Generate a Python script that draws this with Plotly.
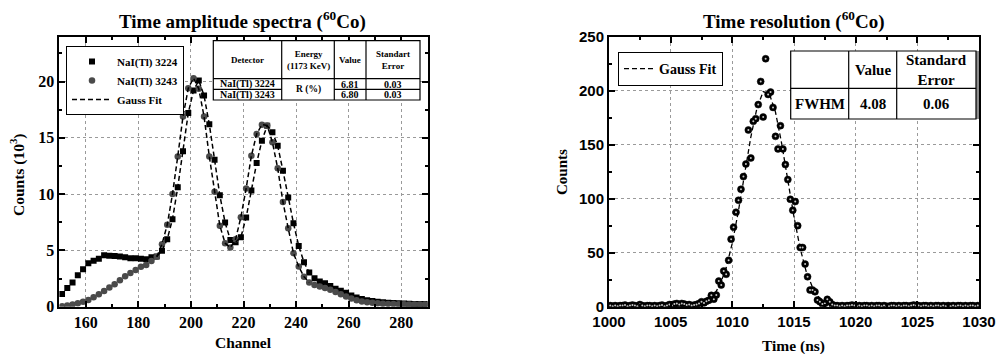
import numpy as np
import plotly.graph_objects as go

# ---------------- Data: left panel (Time amplitude spectra) ----------------
channels = list(range(151, 290, 2))  # 70 channels
nai_3224 = [1.13, 1.66, 2.14, 2.79, 3.32, 3.86, 4.09, 4.27, 4.57, 4.52,
            4.50, 4.45, 4.39, 4.30, 4.30, 4.27, 4.21, 4.39, 4.45, 4.98,
            5.99, 7.77, 10.6, 13.8, 17.2, 19.2, 20.1, 18.75, 16.2, 13.06,
            9.9, 7.48, 5.93, 5.73, 6.17, 7.92, 10.33, 12.76, 14.75, 16.08,
            15.5, 14.3, 12.08, 9.7, 7.42, 5.4, 3.95, 3.03, 2.52, 2.23,
            2.08, 1.84, 1.6, 1.42, 1.24, 1.0, 0.82, 0.68, 0.58, 0.5,
            0.44, 0.4, 0.36, 0.33, 0.3, 0.28, 0.26, 0.25, 0.24, 0.23]
nai_3243 = [0.05, 0.1, 0.2, 0.3, 0.45, 0.6, 0.85, 1.1, 1.4, 1.7,
            2.0, 2.35, 2.7, 3.0, 3.25, 3.55, 3.7, 4.07, 4.43, 5.55,
            7.27, 10.0, 13.35, 16.9, 19.4, 20.3, 19.35, 16.9, 13.35, 10.2,
            7.2, 5.64, 5.25, 6.0, 7.95, 10.5, 13.4, 15.34, 16.17, 16.1,
            14.6, 12.3, 9.3, 6.97, 4.75, 3.56, 2.67, 2.14, 1.93, 1.8,
            1.65, 1.5, 1.3, 1.1, 0.9, 0.72, 0.58, 0.47, 0.4, 0.34,
            0.3, 0.27, 0.25, 0.23, 0.22, 0.21, 0.2, 0.2, 0.19, 0.19]
fit_range = (187, 245)

# ---------------- Data: right panel (Time resolution) ----------------
time_ns = np.round(np.arange(1000.1, 1030.0, 0.2), 1)  # 150 points
counts = [1, 0.5, 1, 0.5, 1, 1, 1.5, 0.5, 1, 1.5,
          1, 0.5, 2, 1, 0.5, 1, 1, 0.5, 1, 0.5,
          1, 1.5, 0.5, 1, 2, 1, 2.5, 3, 2, 3,
          2.5, 1.5, 2, 1, 1.5, 2, 3, 4.6, 3.5, 5,
          6, 10.5, 7, 10.8, 23.7, 20, 33, 30, 43, 62.5,
          73.6, 87.4, 98.5, 108.7, 120.4, 132, 163.5, 137.6, 171.5, 174,
          187, 208.4, 175.5, 229.4, 196.4, 198.6, 184.4, 157.6, 146, 167.5,
          146, 131.5, 117.6, 99.4, 89.3, 97.3, 75, 54.8, 54.8, 39.4,
          27.7, 15.4, 15.4, 13.8, 6.2, 4.6, 2.5, 3, 6.8, 4.6,
          2, 1, 1, 0.5, 1, 0.5, 1, 1, 1.5, 1,
          0.5, 1, 0.5, 1, 1, 0.5, 1, 0.5, 1, 1,
          0.5, 1, 0.5, 0.5, 1, 1, 0.5, 1, 0.5, 1,
          1, 0.5, 1, 1.5, 1, 1, 0.5, 1, 1, 0.5,
          1, 0.5, 1, 1, 0.5, 1, 0.5, 1, 0.5, 1,
          0.5, 1, 1, 0.5, 1, 0.5, 1, 1, 0.5, 1]
fit_time = [1007.0, 1007.5, 1008.0, 1008.5, 1009.0, 1009.5, 1010.0, 1010.5,
            1011.0, 1011.5, 1012.0, 1012.5, 1013.0, 1013.5, 1014.0, 1014.5,
            1015.0, 1015.5, 1016.0, 1016.5, 1017.0, 1017.5, 1018.0, 1018.5]
fit_counts = [1.0, 2.2, 5, 10.5, 20.4, 36, 59, 89,
              123, 157, 184, 199, 197, 180, 151, 116,
              83, 54, 32, 18, 9, 4.3, 1.8, 0.7]

# ---------------- Figure ----------------
SERIF = "Liberation Serif"
SANS = "Liberation Sans"
W, H = 998, 354

def px_x(p):
    return p / W

def px_y(p):
    return 1 - p / H

fig = go.Figure()

ch = np.array(channels)
m = (ch >= fit_range[0]) & (ch <= fit_range[1])

fig.add_trace(go.Scatter(x=channels, y=nai_3224, mode="markers", name="NaI(Tl) 3224",
                         marker=dict(symbol="square", size=6, color="black"),
                         xaxis="x", yaxis="y", legend="legend"))
fig.add_trace(go.Scatter(x=channels, y=nai_3243, mode="markers", name="NaI(Tl) 3243",
                         marker=dict(symbol="circle", size=6.5, color="#4a4a4a"),
                         xaxis="x", yaxis="y", legend="legend"))
fig.add_trace(go.Scatter(x=ch[m], y=np.array(nai_3224)[m], mode="lines", name="Gauss Fit",
                         line=dict(color="black", width=1.5, dash="5px,3px"),
                         xaxis="x", yaxis="y", legend="legend"))
fig.add_trace(go.Scatter(x=ch[m], y=np.array(nai_3243)[m], mode="lines", name="Gauss Fit",
                         line=dict(color="black", width=1.5, dash="5px,3px"),
                         xaxis="x", yaxis="y", showlegend=False))

fig.add_trace(go.Scatter(x=fit_time, y=fit_counts, mode="lines", name="Gauss Fit",
                         line=dict(color="black", width=1.3, dash="5px,3px"),
                         xaxis="x2", yaxis="y2", legend="legend2"))
fig.add_trace(go.Scatter(x=time_ns, y=counts, mode="markers", name="data", showlegend=False,
                         marker=dict(symbol="circle", size=7, color="black",
                                     line=dict(width=0.5, color="black")),
                         xaxis="x2", yaxis="y2"))
fig.add_trace(go.Scatter(x=time_ns, y=counts, mode="markers", name="highlight", showlegend=False,
                         marker=dict(symbol="circle", size=2, color="#c8c8c8"),
                         hoverinfo="skip", xaxis="x2", yaxis="y2"))

ydom = [px_y(306.7), px_y(36.5)]
axis_common = dict(showline=True, linecolor="black", linewidth=2, mirror="allticks",
                   ticks="inside", ticklen=6, tickwidth=1.5, tickcolor="black",
                   showgrid=True, gridcolor="#9a9a9a", griddash="dot", gridwidth=1,
                   zeroline=False, automargin=False)

fig.update_layout(
    width=W, height=H, margin=dict(l=0, r=0, t=0, b=0),
    paper_bgcolor="white", plot_bgcolor="white",
    xaxis=dict(domain=[px_x(59.4), px_x(427.6)], range=[150, 290], dtick=20, tick0=0,
               minor=dict(dtick=10, ticks="inside", ticklen=3, tickwidth=1.5, tickcolor="black", showgrid=False),
               tickfont=dict(family=SERIF, size=16, color="black", weight="bold"),
               **axis_common),
    yaxis=dict(domain=ydom, range=[0, 24], dtick=5, tick0=0,
               minor=dict(dtick=2.5, ticks="inside", ticklen=3, tickwidth=1.5, tickcolor="black", showgrid=False),
               tickfont=dict(family=SERIF, size=16, color="black", weight="bold"),
               **axis_common),
    xaxis2=dict(domain=[px_x(609), px_x(979)], range=[1000, 1030], dtick=5, tick0=0,
                anchor="y2",
                minor=dict(dtick=2.5, ticks="inside", ticklen=3, tickwidth=1.5, tickcolor="black", showgrid=False),
                tickfont=dict(family=SANS, size=15, color="black", weight="bold"),
                **axis_common),
    yaxis2=dict(domain=ydom, range=[0, 250], dtick=50, tick0=0, anchor="x2",
                minor=dict(dtick=25, ticks="inside", ticklen=3, tickwidth=1.5, tickcolor="black", showgrid=False),
                tickfont=dict(family=SANS, size=15, color="black", weight="bold"),
                **axis_common),
    legend=dict(x=px_x(66), y=px_y(46), xanchor="left", yanchor="top",
                bgcolor="white", bordercolor="black", borderwidth=1,
                font=dict(family=SERIF, size=11, color="black", weight="bold"),
                tracegroupgap=0, itemwidth=40),
    legend2=dict(x=px_x(618), y=px_y(52), xanchor="left", yanchor="top",
                 bgcolor="white", bordercolor="black", borderwidth=1,
                 font=dict(family=SERIF, size=14, color="black", weight="bold"),
                 itemwidth=30),
)

ann = []
def text(x, y, s, size, rot=0, family=SERIF):
    ann.append(dict(x=px_x(x), y=px_y(y), xref="paper", yref="paper", text=s,
                    showarrow=False, xanchor="center", yanchor="middle", textangle=rot,
                    font=dict(family=family, size=size, color="black", weight="bold")))

# titles
text(242.5, 21, "Time amplitude spectra (<sup>60</sup>Co)", 19)
text(794, 21, "Time resolution (<sup>60</sup>Co)", 19)
text(243, 342, "Channel", 15.5)
text(18, 175, "Counts (10<sup>3</sup>)", 15.5, rot=-90)
text(793, 346, "Time (ns)", 15.5)
text(562, 172, "Counts", 15, rot=-90)

shapes = []
def rect(x0, y0, x1, y1, fill="white", lw=1.2):
    shapes.append(dict(type="rect", xref="paper", yref="paper", x0=px_x(x0), x1=px_x(x1),
                       y0=px_y(y1), y1=px_y(y0), line=dict(color="black", width=lw),
                       fillcolor=fill, layer="above"))

def line(x0, y0, x1, y1, lw=1.2):
    shapes.append(dict(type="line", xref="paper", yref="paper", x0=px_x(x0), x1=px_x(x1),
                       y0=px_y(y0), y1=px_y(y1), line=dict(color="black", width=lw), layer="above"))

# left table
lt_x = [213.3, 281.7, 334.3, 366, 420]
lt_y = [40.7, 78.7, 89.3, 100]
rect(lt_x[0], lt_y[0], lt_x[-1], lt_y[-1])
for xv in lt_x[1:-1]:
    line(xv, lt_y[0], xv, lt_y[-1])
line(lt_x[0], lt_y[1], lt_x[-1], lt_y[1])
line(lt_x[0], lt_y[2], lt_x[1], lt_y[2])
line(lt_x[2], lt_y[2], lt_x[-1], lt_y[2])
cx = [(lt_x[i] + lt_x[i + 1]) / 2 for i in range(4)]
hy = (lt_y[0] + lt_y[1]) / 2
text(cx[0], hy, "Detector", 9)
text(cx[1], hy, "Energy<br>(1173 KeV)", 9)
text(cx[2], hy, "Value", 9)
text(cx[3], hy, "Standart<br>Error", 9)
r1 = (lt_y[1] + lt_y[2]) / 2
r2 = (lt_y[2] + lt_y[3]) / 2
text(cx[0], r1, "NaI(Tl) 3224", 10)
text(cx[0], r2, "NaI(Tl) 3243", 10)
text(cx[1], (lt_y[1] + lt_y[3]) / 2, "R (%)", 9.5)
text(cx[2], r1, "6.81", 10)
text(cx[2], r2, "6.80", 10)
text(cx[3], r1, "0.03", 10)
text(cx[3], r2, "0.03", 10)

# right table
rt_x = [790.7, 848.7, 896.7, 976]
rt_y = [51, 88.3, 119]
shapes.append(dict(type="rect", xref="paper", yref="paper", x0=px_x(976), x1=px_x(979),
                   y0=px_y(119), y1=px_y(51), line=dict(width=0), fillcolor="#8c8c8c", layer="above"))
rect(rt_x[0], rt_y[0], rt_x[-1], rt_y[-1])
for xv in rt_x[1:-1]:
    line(xv, rt_y[0], xv, rt_y[-1])
line(rt_x[0], rt_y[1], rt_x[-1], rt_y[1])
rcx = [(rt_x[i] + rt_x[i + 1]) / 2 for i in range(3)]
rhy = (rt_y[0] + rt_y[1]) / 2
rr = (rt_y[1] + rt_y[2]) / 2
text(rcx[1], rhy, "Value", 15)
text(rcx[2], rhy, "Standard<br>Error", 15)
text(rcx[0], rr, "FWHM", 15)
text(rcx[1], rr, "4.08", 15)
text(rcx[2], rr, "0.06", 15)

fig.update_layout(annotations=ann, shapes=shapes)
fig.write_html("out.html")
